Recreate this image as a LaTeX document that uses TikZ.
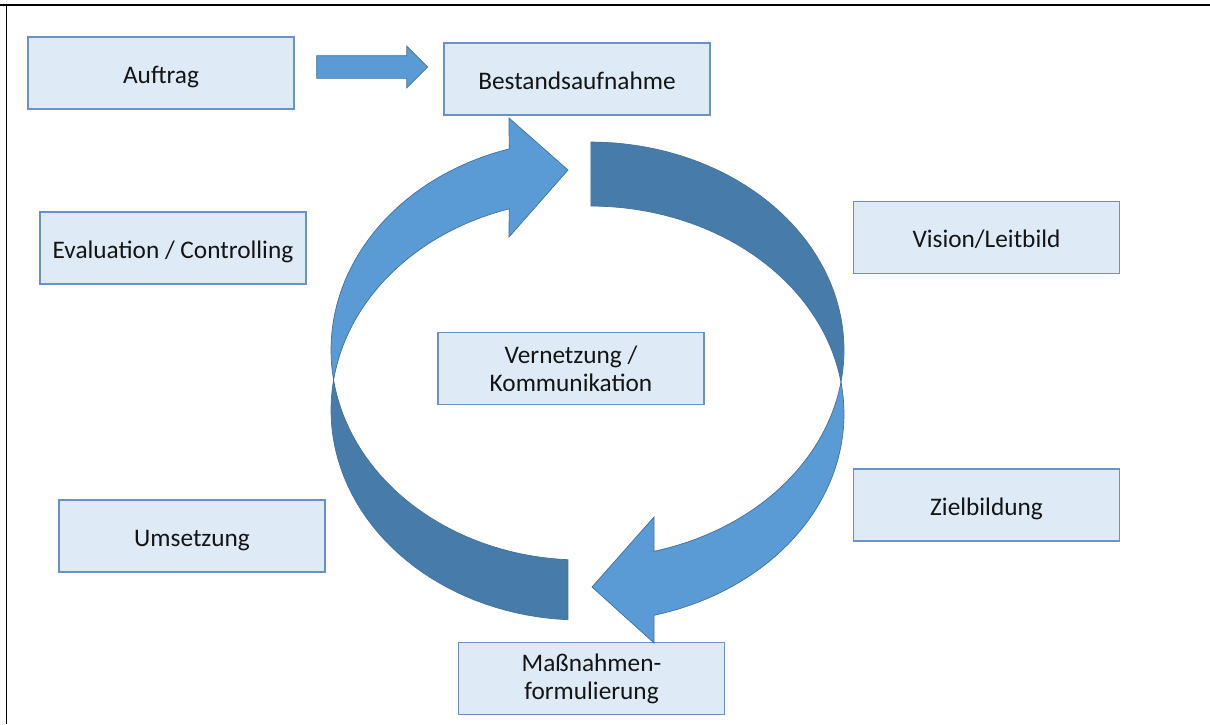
\documentclass[tikz,border=0pt]{standalone}
\usepackage{fontspec}
\setmainfont{Carlito}
\definecolor{boxfill}{RGB}{222, 235, 247}
\definecolor{boxline}{RGB}{108, 145, 198}
\definecolor{frontblue}{RGB}{91, 155, 213}
\definecolor{backblue}{RGB}{71, 124, 170}
\definecolor{edgeblue}{RGB}{65, 113, 156}
\definecolor{textdark}{RGB}{20, 20, 20}
\usetikzlibrary{shapes.arrows, positioning}
\tikzset{
  stagebox/.style={draw=boxline, fill=boxfill, line width=0.8pt, minimum width=5.32cm, minimum height=1.44cm, inner sep=0pt, align=center, text=textdark, font=\fontsize{14.4}{16}\selectfont},
  onebox/.style={stagebox, text height=11.4pt, text depth=0pt},
  frontface/.style={fill=frontblue, draw=edgeblue, line width=0.4pt},
  backface/.style={fill=backblue, draw=edgeblue, line width=0.4pt},
}

\begin{document}
\begin{tikzpicture}[x=0.02cm, y=-0.02cm]
  \useasboundingbox (0,0) rectangle (1210,724);
  \fill[white] (0,0) rectangle (1210,724);

  % Frame
  \draw[line width=1.1pt] (0,5) -- (1210,5);
  \draw[line width=1.1pt] (6.5,5) -- (6.5,724);

  % Stages
  \node[onebox] (auftrag) at (161, 73) {Auftrag};
  \node[onebox] (bestand) at (577, 79) {Bestandsaufnahme};
  \node[onebox] (eval) at (173, 248) {Evaluation / Controlling};
  \node[onebox] (vision) at (986.5, 237.5) {Vision/Leitbild};
  \node[stagebox] (vernetz) at (571, 368.5) {Vernetzung /\\Kommunikation};
  \node[onebox] (ziel) at (986.5, 505) {Zielbildung};
  \node[onebox] (umsetz) at (192, 536) {Umsetzung};
  \node[stagebox] (massn) at (591.5, 678.5) {Maßnahmen-\\formulierung};

  % Start arrow
  \node[single arrow, fill=frontblue, draw=edgeblue, line width=0.4pt, minimum height=2.22cm, inner xsep=0pt, inner ysep=0.22cm, single arrow head extend=0.19cm, single arrow head indent=0pt] (go) at (366.5, 67) {};

  % Left curved arrow, back face
  \filldraw[backface] plot[domain=188.2:93, samples=40] ({581+250*cos(\x)}, {410+210*sin(\x)})
    -- plot[domain=93:171.8, samples=40] ({581+250*cos(\x)}, {350+210*sin(\x)}) -- cycle;
  % Left curved arrow, front face
  \filldraw[frontface] plot[domain=171.8:253.3, samples=40] ({581+250*cos(\x)}, {350+210*sin(\x)})
    -- (509,118) -- (568,170) -- (509,237)
    -- plot[domain=253.3:188.2, samples=40] ({581+250*cos(\x)}, {410+210*sin(\x)}) -- cycle;

  % Right curved arrow, back face
  \filldraw[backface] plot[domain=270.2:368.85, samples=40] ({590+254*cos(\x)}, {350+208*sin(\x)})
    -- plot[domain=351.15:270.2, samples=40] ({590+254*cos(\x)}, {414+208*sin(\x)}) -- cycle;
  % Right curved arrow, front face
  \filldraw[frontface] plot[domain=-8.85:75.4, samples=40] ({590+254*cos(\x)}, {414+208*sin(\x)})
    -- (654,643) -- (592,587) -- (654,517)
    -- plot[domain=75.4:8.85, samples=40] ({590+254*cos(\x)}, {350+208*sin(\x)}) -- cycle;
\end{tikzpicture}
\end{document}
